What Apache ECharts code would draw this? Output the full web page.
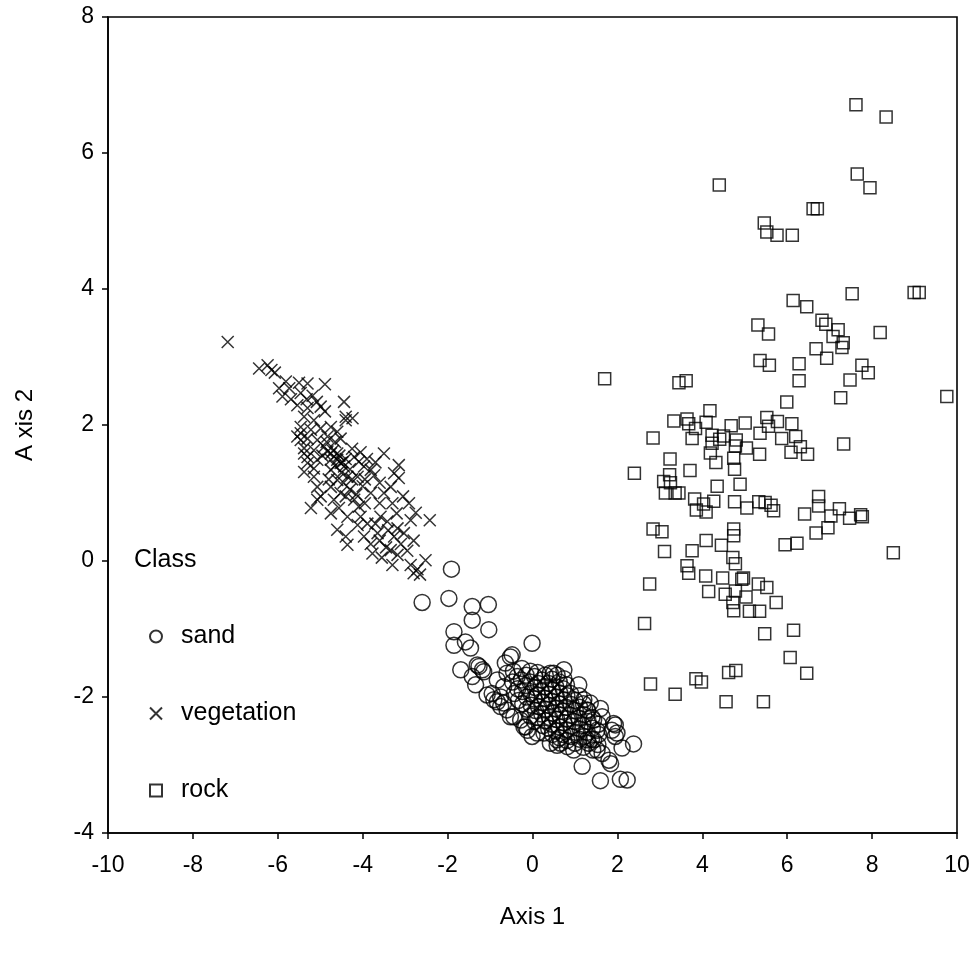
<!DOCTYPE html>
<html><head><meta charset="utf-8">
<script src="https://cdn.jsdelivr.net/npm/echarts@6/dist/echarts.min.js"></script>
<style>html,body{margin:0;padding:0;background:#fff}#c{width:974px;height:958px}</style>
</head><body><div id="c"></div>
<script>
// ---- data ----
const xTickValues = [-10, -8, -6, -4, -2, 0, 2, 4, 6, 8, 10];
const yTickValues = [-4, -2, 0, 2, 4, 6, 8];
const classNames = ['sand', 'vegetation', 'rock'];

const sand = [
[-1.91,-0.12],[-2.60,-0.61],[-1.97,-0.55],[-1.42,-0.67],[-1.42,-0.87],[-1.04,-0.64],[-1.03,-1.01],
[-1.85,-1.04],[-1.85,-1.24],[-1.58,-1.19],[-1.46,-1.28],[-0.01,-1.21],[-0.48,-1.38],
[-1.69,-1.60],[-1.30,-1.53],[-1.18,-1.60],[-1.42,-1.70],[-1.34,-1.82],
[-0.95,-1.95],[-0.83,-2.07],[-0.75,-2.14],[-0.60,-2.19],[-0.44,-2.29],[-0.20,-2.44],[-0.01,-2.58],[-0.28,-2.34],
[0.27,-2.53],[0.58,-2.63],[0.74,-1.60],[0.50,-1.65],[1.09,-1.82],[1.60,-2.17],[1.91,-2.39],[1.99,-2.53],
[2.38,-2.69],[2.11,-2.75],[1.17,-3.02],[1.60,-3.23],[2.07,-3.21],[2.23,-3.22],
[1.64,-2.83],[1.80,-2.93],[1.52,-2.78],[0.97,-2.78],[1.29,-2.63],[0.66,-2.68],
[-1.07,-1.97],[-0.91,-2.04],[-0.16,-2.44],[-1.26,-1.55],[-1.15,-1.63],
[-0.64,-1.50],[0.74,-1.73],[0.58,-1.68],[0.42,-1.65],[1.95,-2.58],[1.64,-2.29],[1.84,-2.98],
[0.82,-2.73],[0.58,-2.71],[1.44,-2.34],[1.52,-2.49],[1.44,-2.63],[1.21,-2.04],[1.29,-2.19],[1.36,-2.09],
[0.42,-2.68],[0.11,-2.53],[-0.12,-2.49],[-0.75,-2.00],[-0.68,-2.09],[-0.52,-2.29],
[-0.83,-1.75],[-0.68,-1.85],[-0.60,-1.65],[-0.36,-1.70],[-0.52,-1.41],[1.95,-2.41],[1.87,-2.49],
[-0.45,-1.62],[-0.47,-1.78],[-0.43,-1.95],[-0.35,-1.88],[-0.33,-2.05],
[-0.25,-1.58],[-0.26,-1.75],[-0.24,-1.92],[-0.23,-2.10],
[-0.15,-1.68],[-0.16,-1.83],[-0.14,-2.00],[-0.13,-2.18],
[-0.05,-1.62],[-0.06,-1.78],[-0.04,-1.95],[-0.03,-2.12],[-0.05,-2.28],
[0.05,-1.70],[0.06,-1.86],[0.04,-2.03],[0.07,-2.20],[0.05,-2.36],
[0.12,-1.64],[0.13,-1.80],[0.11,-1.97],[0.14,-2.14],[0.12,-2.30],
[0.22,-1.75],[0.21,-1.92],[0.23,-2.08],[0.22,-2.25],[0.24,-2.42],
[0.30,-1.68],[0.31,-1.85],[0.29,-2.02],[0.32,-2.18],[0.30,-2.35],
[0.38,-1.80],[0.39,-1.96],[0.37,-2.12],[0.40,-2.30],[0.38,-2.46],
[0.46,-1.74],[0.47,-1.90],[0.45,-2.06],[0.48,-2.24],[0.46,-2.40],[0.47,-2.55],
[0.55,-1.85],[0.56,-2.00],[0.54,-2.17],[0.57,-2.33],[0.55,-2.50],
[0.63,-1.78],[0.64,-1.94],[0.62,-2.10],[0.65,-2.27],[0.63,-2.44],[0.64,-2.60],
[0.72,-1.88],[0.73,-2.04],[0.71,-2.21],[0.74,-2.38],[0.72,-2.55],
[0.80,-1.82],[0.81,-1.98],[0.79,-2.15],[0.82,-2.32],[0.80,-2.48],[0.81,-2.64],
[0.90,-1.95],[0.91,-2.11],[0.89,-2.27],[0.92,-2.43],[0.90,-2.58],
[1.00,-2.05],[1.01,-2.20],[0.99,-2.36],[1.02,-2.52],[1.00,-2.68],
[1.10,-1.98],[1.11,-2.15],[1.09,-2.31],[1.12,-2.47],[1.10,-2.62],
[1.20,-2.10],[1.21,-2.26],[1.19,-2.42],[1.22,-2.58],[1.20,-2.74],
[1.30,-2.20],[1.31,-2.36],[1.29,-2.52],[1.32,-2.68],
[1.40,-2.30],[1.41,-2.46],[1.39,-2.62],[1.42,-2.78],
[1.55,-2.40],[1.56,-2.55],[1.54,-2.70]
];

const vegetation = [
[-7.18,3.22],[-6.44,2.83],[-6.24,2.88],[-6.15,2.81],[-6.07,2.77],
[-5.81,2.64],[-5.97,2.54],[-5.73,2.54],[-5.50,2.62],[-5.30,2.61],[-4.89,2.60],
[-5.89,2.42],[-5.69,2.38],[-5.46,2.47],[-5.32,2.38],[-5.18,2.43],[-5.08,2.34],
[-4.44,2.34],[-5.54,2.29],[-5.30,2.25],[-4.99,2.27],[-4.89,2.20],
[-4.40,2.12],[-4.24,2.10],[-4.40,2.07],[-5.38,2.12],[-5.15,2.07],
[-5.46,1.97],[-5.22,1.93],[-4.99,1.95],[-4.75,1.97],[-4.60,1.90],
[-5.54,1.83],[-5.30,1.80],[-5.07,1.78],[-4.83,1.83],[-4.52,1.80],
[-5.38,1.66],[-5.15,1.63],[-4.83,1.61],[-4.60,1.58],
[-5.30,1.53],[-5.07,1.49],[-4.75,1.49],[-4.52,1.44],[-5.38,1.31],[-5.15,1.36],
[-3.50,1.58],[-3.15,1.41],[-3.26,1.29],[-3.15,1.22],
[-2.91,0.85],[-2.75,0.71],[-2.87,0.60],[-2.42,0.60],
[-3.18,0.48],[-3.26,0.36],[-3.03,0.41],
[-2.52,0.01],[-3.34,0.16],[-3.18,0.09],[-3.30,-0.06],[-2.87,-0.06],[-2.71,-0.12],
[-5.22,0.78],[-4.75,0.70],[-4.40,0.36],[-4.36,0.24],[-4.60,0.46],
[-3.77,0.11],[-3.81,0.25],[-3.97,0.36],[-4.12,0.53],[-3.58,0.65],[-3.42,0.58],[-3.65,0.41],
[-3.81,1.00],[-3.50,1.00],[-3.34,1.09],[-3.73,1.26],[-3.97,1.39],[-3.81,1.34],
[-4.20,1.53],[-4.09,1.46],[-4.44,1.39],[-4.36,1.24],[-4.12,1.24],
[-4.75,1.34],[-4.60,1.19],[-4.75,1.09],[-4.52,1.00],[-5.07,1.09],[-4.99,0.95],
[-4.20,0.90],[-4.09,0.80],[-4.36,0.65],[-4.05,0.65],[-3.89,0.55],
[-4.68,0.90],[-4.56,0.78],[-5.07,0.90],[-5.15,1.24],[-5.30,1.44],[-5.38,1.58],
[-4.91,1.68],[-4.75,1.58],[-4.60,1.49],[-5.46,1.78],[-5.46,1.88],
[-4.70,1.62],[-4.55,1.55],[-4.48,1.45],[-4.65,1.40],[-4.40,1.50],[-4.30,1.35],[-4.50,1.30],
[-4.25,1.20],[-4.45,1.15],[-4.80,1.20],[-4.30,1.05],[-4.00,1.10],[-4.15,0.98],[-3.95,0.85],
[-4.40,0.95],[-4.85,1.75],[-4.95,1.55],[-4.65,1.75],[-4.25,1.65],[-4.05,1.60],[-3.90,1.50],
[-3.70,1.45],[-3.60,1.15],[-3.95,1.20],
[-3.60,0.30],[-3.45,0.20],[-3.55,0.05],[-3.40,0.45],[-3.10,0.25],[-2.95,0.15],[-3.70,0.55],
[-3.20,0.70],[-3.05,0.95],[-3.30,0.85],[-3.60,0.85],[-2.80,0.30],[-2.65,-0.20],[-2.80,-0.18]
];

const rock = [
[7.62,6.71],[8.33,6.53],[4.40,5.53],[7.65,5.69],[7.95,5.49],[6.61,5.18],[6.71,5.18],
[5.46,4.97],[5.52,4.84],[5.76,4.79],[6.12,4.79],[7.53,3.93],[8.99,3.95],[9.11,3.95],
[6.14,3.83],[6.46,3.74],[6.82,3.54],[6.91,3.48],[7.20,3.40],[7.08,3.30],[7.32,3.21],[7.29,3.14],
[8.19,3.36],[5.31,3.47],[5.56,3.34],[6.68,3.12],[6.93,2.98],[5.36,2.95],[5.58,2.88],[6.28,2.90],
[7.76,2.88],[7.91,2.77],[7.48,2.66],[6.28,2.65],[7.26,2.40],[9.76,2.42],[5.99,2.34],[7.33,1.72],
[1.70,2.68],[3.45,2.62],[3.62,2.65],[4.18,2.21],[3.33,2.06],[3.64,2.09],[3.68,2.02],[4.09,2.04],
[3.84,1.95],[4.68,1.99],[5.01,2.03],[2.84,1.81],[3.76,1.80],[4.23,1.85],[4.50,1.84],[4.41,1.79],
[4.80,1.78],[4.23,1.73],[4.78,1.69],[5.04,1.66],[4.19,1.59],[4.74,1.51],[4.32,1.45],[3.24,1.50],
[4.76,1.35],[3.71,1.33],[2.40,1.29],[3.23,1.27],[3.09,1.17],[3.25,1.15],[3.13,1.00],[3.36,1.00],
[3.45,1.00],[4.35,1.10],[4.89,1.13],[3.82,0.91],[4.03,0.84],[3.86,0.75],[4.09,0.72],[4.27,0.88],
[4.76,0.87],[5.05,0.78],[5.33,0.87],[5.48,0.86],[5.62,0.82],[5.68,0.74],[2.84,0.47],[3.05,0.43],
[4.74,0.47],[4.74,0.37],[4.09,0.30],[5.52,2.11],[5.56,1.98],[5.77,2.05],[6.11,2.02],[5.36,1.88],
[5.87,1.80],[6.20,1.83],[6.31,1.68],[5.35,1.57],[6.09,1.60],[6.48,1.57],[6.74,0.95],[6.74,0.81],
[6.41,0.69],[7.03,0.66],[7.23,0.77],[7.47,0.63],[7.73,0.68],[7.77,0.65],[6.96,0.49],[6.68,0.41],
[5.95,0.24],[6.23,0.26],[8.50,0.12],[3.11,0.14],[3.76,0.15],[4.45,0.23],[4.72,0.05],[4.78,-0.04],
[3.64,-0.07],[3.68,-0.18],[2.76,-0.34],[4.08,-0.22],[4.48,-0.25],[4.93,-0.27],[4.97,-0.25],
[5.32,-0.34],[5.52,-0.39],[4.15,-0.45],[4.54,-0.49],[4.78,-0.44],[5.03,-0.53],[4.72,-0.61],
[4.74,-0.73],[5.11,-0.74],[5.35,-0.74],[5.74,-0.61],[2.64,-0.92],[5.47,-1.07],[6.15,-1.02],
[6.07,-1.42],[6.46,-1.65],[2.78,-1.81],[3.36,-1.96],[3.85,-1.73],[3.98,-1.78],[4.62,-1.64],
[4.79,-1.61],[4.56,-2.07],[5.44,-2.07]
];

// ---- chart ----
const FONT = '"Liberation Sans", Arial, Helvetica, sans-serif';
const xPath = 'path://M0,0L10,10M10,0L0,10';
const hollow = { color: 'rgba(0,0,0,0)', borderColor: '#000', borderWidth: 1.5 };
const chart = echarts.init(document.getElementById('c'), null, { renderer: 'canvas' });

const axisCommon = {
  type: 'value',
  nameLocation: 'middle',
  nameTextStyle: { fontFamily: FONT, fontSize: 24, color: '#000' },
  axisLine: { show: true, onZero: false, lineStyle: { color: '#000', width: 1.6 } },
  axisTick: { show: true, inside: false, length: 6, lineStyle: { color: '#000', width: 1.5 } },
  splitLine: { show: false }
};

chart.setOption({
  animation: false,
  backgroundColor: '#fff',
  grid: { left: 108, right: 17, top: 17, bottom: 125, show: true, borderColor: '#000', borderWidth: 1.6, backgroundColor: 'rgba(0,0,0,0)' },
  xAxis: Object.assign({}, axisCommon, {
    min: xTickValues[0], max: xTickValues[xTickValues.length - 1], interval: 2,
    name: 'Axis 1', nameGap: 72,
    axisLabel: { fontFamily: FONT, fontSize: 23, color: '#000', margin: 21 }
  }),
  yAxis: Object.assign({}, axisCommon, {
    min: yTickValues[0], max: yTickValues[yTickValues.length - 1], interval: 2,
    name: 'A xis 2', nameGap: 71, nameRotate: 90,
    axisLabel: { fontFamily: FONT, fontSize: 23, color: '#000', margin: 14 }
  }),
  legend: {
    orient: 'vertical', left: 144, top: 619,
    itemWidth: 12, itemHeight: 12, itemGap: 52,
    textStyle: { fontFamily: FONT, fontSize: 25, color: '#000', padding: [0, 0, 0, 14] },
    data: [
      { name: classNames[0], icon: 'circle' },
      { name: classNames[1], icon: xPath },
      { name: classNames[2], icon: 'rect' }
    ]
  },
  graphic: [{
    type: 'text', left: 134, top: 548,
    style: { text: 'Class', fontFamily: FONT, fontSize: 25, fill: '#000' }
  }],
  series: [
    { name: classNames[0], type: 'scatter', data: sand, symbol: 'circle', symbolSize: 16, itemStyle: hollow },
    { name: classNames[1], type: 'scatter', data: vegetation, symbol: xPath, symbolSize: 12, itemStyle: hollow },
    { name: classNames[2], type: 'scatter', data: rock, symbol: 'rect', symbolSize: 12, itemStyle: hollow }
  ]
});
</script>
</body></html>
